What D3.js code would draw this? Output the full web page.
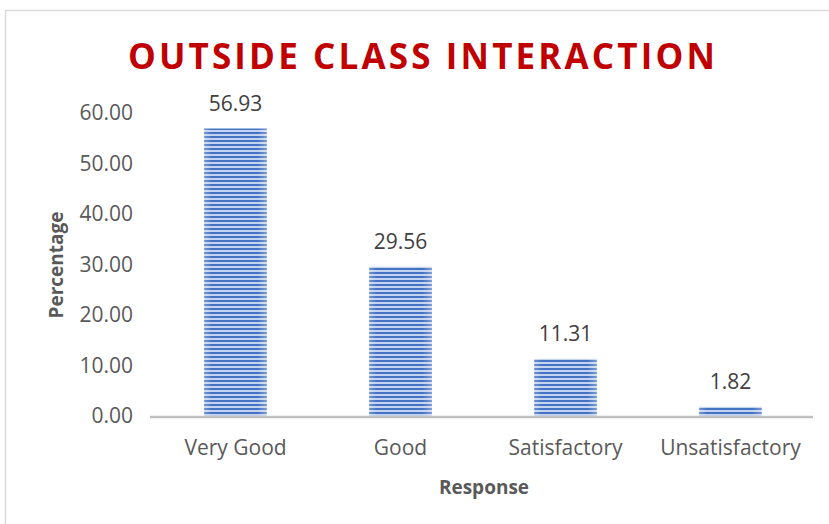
<!DOCTYPE html>
<html>
<head>
<meta charset="utf-8">
<script src="https://cdn.jsdelivr.net/npm/d3@7"></script>
<style>
  body { margin: 0; background: #fff; }
  text { font-family: "Open Sans", "Noto Sans", sans-serif; }
</style>
</head>
<body>
<svg width="829" height="524"></svg>
<script>
// data
var categories = ["Very Good", "Good", "Satisfactory", "Unsatisfactory"];
var values = [56.93, 29.56, 11.31, 1.82];
var yTicks = [0, 10, 20, 30, 40, 50, 60];

var svg = d3.select("svg"),
  width = +svg.attr("width"),
  height = +svg.attr("height");

var margin = {left: 153, right: 16, top: 113, bottom: 108};
var plotBottom = height - margin.bottom; // 416

// chart area border (cut off at right / bottom like the screenshot)
svg.append("rect")
  .attr("x", 5.5).attr("y", 10.5)
  .attr("width", 900).attr("height", 600)
  .attr("fill", "#fff")
  .attr("stroke", "#d9d9d9")
  .attr("stroke-width", 1.5);

// striped fill
var defs = svg.append("defs");
var pat = defs.append("pattern")
  .attr("id", "stripes")
  .attr("patternUnits", "userSpaceOnUse")
  .attr("width", 8).attr("height", 4);
pat.append("rect").attr("width", 8).attr("height", 4).attr("fill", "#c3d2ee");
pat.append("rect").attr("width", 8).attr("height", 2).attr("fill", "#4472c4");

var grad = defs.append("linearGradient").attr("id", "shine")
  .attr("x1", "0%").attr("x2", "100%").attr("y1", "0%").attr("y2", "0%");
grad.append("stop").attr("offset", "0%").attr("stop-color", "#fff").attr("stop-opacity", 0.25);
grad.append("stop").attr("offset", "12%").attr("stop-color", "#fff").attr("stop-opacity", 0);
grad.append("stop").attr("offset", "85%").attr("stop-color", "#fff").attr("stop-opacity", 0);
grad.append("stop").attr("offset", "100%").attr("stop-color", "#fff").attr("stop-opacity", 0.3);

var x = d3.scaleBand()
  .domain(categories)
  .range([margin.left, width - margin.right])
  .paddingInner(0.62)
  .paddingOuter(0.31);

var y = d3.scaleLinear()
  .domain([0, 60])
  .range([plotBottom, margin.top]);

// y tick labels (no axis line)
var yAxis = svg.append("g")
  .attr("transform", "translate(" + (margin.left - 20) + ",0)")
  .call(d3.axisLeft(y).tickValues(yTicks).tickSize(0).tickPadding(0)
    .tickFormat(function (d) { return d3.format(".2f")(d); }));
yAxis.select(".domain").remove();
yAxis.selectAll("text")
  .attr("font-family", "Open Sans")
  .attr("font-size", 21)
  .attr("fill", "#595959");

// bars
var bars = svg.append("g").selectAll("g")
  .data(values)
  .enter().append("g");

bars.append("rect")
  .attr("x", function (d, i) { return x(categories[i]); })
  .attr("y", function (d) { return y(d); })
  .attr("width", x.bandwidth())
  .attr("height", function (d) { return plotBottom - y(d); })
  .attr("fill", "url(#stripes)");

bars.append("rect")
  .attr("x", function (d, i) { return x(categories[i]); })
  .attr("y", function (d) { return y(d); })
  .attr("width", x.bandwidth())
  .attr("height", function (d) { return plotBottom - y(d); })
  .attr("fill", "url(#shine)");

// data labels
bars.append("text")
  .attr("x", function (d, i) { return x(categories[i]) + x.bandwidth() / 2; })
  .attr("y", function (d) { return y(d) - 18; })
  .attr("text-anchor", "middle")
  .attr("font-size", 21)
  .attr("fill", "#404040")
  .text(function (d) { return d3.format(".2f")(d); });

// x axis
var xAxis = svg.append("g")
  .attr("transform", "translate(0," + plotBottom + ")")
  .call(d3.axisBottom(x).tickSize(0).tickPadding(24));
xAxis.select(".domain")
  .attr("stroke", "#bfbfbf")
  .attr("stroke-width", 2.5)
  .attr("d", "M" + (margin.left - 3) + ",1H" + (width - margin.right));
xAxis.selectAll("text")
  .attr("font-family", "Open Sans")
  .attr("font-size", 21)
  .attr("fill", "#595959");

// axis titles
svg.append("text")
  .attr("transform", "translate(63,265) rotate(-90)")
  .attr("text-anchor", "middle")
  .attr("font-size", 19)
  .attr("font-weight", "bold")
  .attr("fill", "#595959")
  .text("Percentage");

svg.append("text")
  .attr("x", 484).attr("y", 494)
  .attr("text-anchor", "middle")
  .attr("font-size", 19)
  .attr("font-weight", "bold")
  .attr("fill", "#595959")
  .text("Response");

// title
var title = svg.append("text")
  .attr("x", 423).attr("y", 69)
  .attr("text-anchor", "middle")
  .attr("font-size", 35)
  .attr("font-weight", "bold")
  .attr("fill", "#c00000")
  .text("OUTSIDE CLASS INTERACTION");
var tw = title.node().getComputedTextLength();
var target = 587, n = title.text().length;
title.attr("letter-spacing", ((target - tw) / (n - 1)) + "px");
</script>
</body>
</html>
